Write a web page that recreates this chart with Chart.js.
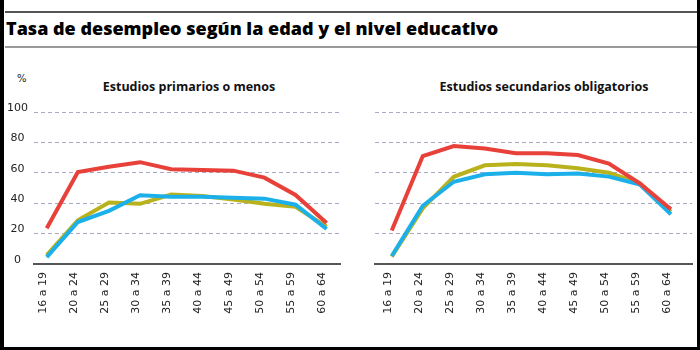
<!DOCTYPE html>
<html>
<head>
<meta charset="utf-8">
<script src="https://cdn.jsdelivr.net/npm/chart.js@4.4.1/dist/chart.umd.min.js"></script>
<style>
  html, body { margin: 0; padding: 0; background: #fff; }
  #page { position: relative; width: 700px; height: 350px; overflow: hidden; background: #fff; }
  .frame { position: absolute; left: 0; top: 0; width: 700px; height: 350px; box-sizing: border-box;
           border-left: 4px solid #000; border-right: 3px solid #000; border-bottom: 3px solid #000; pointer-events: none; z-index: 5; }
  .rule { position: absolute; left: 5px; width: 692px; height: 2px; }
  #title { position: absolute; left: 6px; top: 17px; font-family: "Open Sans", Lato, sans-serif; font-weight: 800;
           font-size: 18px; line-height: 22px; color: #000; white-space: nowrap; letter-spacing: 0px; }
  .sub { position: absolute; top: 78px; font-family: "Open Sans", Lato, sans-serif; font-weight: 700; font-size: 12.5px;
         line-height: 17px; color: #111; white-space: nowrap; transform: translateX(-50%); }
  #pct { position: absolute; left: 17px; top: 73px; font-family: "DejaVu Sans", sans-serif; font-size: 10px; color: #222; }
  canvas { position: absolute; top: 0; }
</style>
</head>
<body>
<div id="page">
  <div class="rule" style="top:11px; background:#555;"></div>
  <div id="title">Tasa de desempleo según la edad y el nivel educativo</div>
  <div class="rule" style="top:46px; background:#9a9a9a;"></div>
  <div id="pct">%</div>
  <div class="sub" id="sub1" style="left:189px;">Estudios primarios o menos</div>
  <div class="sub" id="sub2" style="left:544px;">Estudios secundarios obligatorios</div>
  <div style="position:absolute; left:0; top:0; width:350px; height:350px;"><canvas id="c1" width="350" height="350" style="left:0"></canvas></div>
  <div style="position:absolute; left:350px; top:0; width:350px; height:350px;"><canvas id="c2" width="350" height="350" style="left:0"></canvas></div>
  <div class="frame"></div>
</div>
<script>
// Categories (age groups)
const ageGroups = ['16 a 19', '20 a 24', '25 a 29', '30 a 34', '35 a 39', '40 a 44', '45 a 49', '50 a 54', '55 a 59', '60 a 64'];
// Y-axis tick values (%)
const yTicks = [0, 20, 40, 60, 80, 100];

// Panel 1: Estudios primarios o menos
const primRed    = [23.5, 60.5, 64, 67, 62.3, 61.8, 61.4, 56.8, 45.4, 27];
const primBlue   = [4.5, 27.6, 35, 45.2, 44.3, 44.2, 43.6, 43, 39, 23];
const primYellow = [5.8, 28.7, 40.5, 39.6, 45.7, 44.8, 42.5, 39.6, 37.6, 24.5];

// Panel 2: Estudios secundarios obligatorios
const secRed    = [22, 71, 77.6, 76, 72.8, 72.8, 71.7, 66, 53, 36];
const secBlue   = [5.3, 38.3, 54.1, 59, 60, 59, 59.6, 57.5, 52.2, 32.7];
const secYellow = [4.8, 36.6, 57.4, 64.9, 65.8, 64.9, 63, 60, 53, 34.4];

const RED = '#e8413a', BLUE = '#1cb0ea', YELLOW = '#b9b21d';

function series(values, color) {
  return {
    data: values.map((v, i) => ({ x: i, y: v })),
    borderColor: color, backgroundColor: color, borderWidth: 4,
    pointRadius: 0, pointHoverRadius: 0, tension: 0, fill: false,
    borderCapStyle: 'butt', borderJoinStyle: 'miter'
  };
}

function makeChart(id, red, blue, yellow, cfg) {
  return new Chart(document.getElementById(id), {
    type: 'line',
    data: { datasets: [series(red, RED), series(blue, BLUE), series(yellow, YELLOW)] },
    options: {
      responsive: false, animation: false, events: [],
      layout: { padding: { left: 0, right: cfg.padRight, top: 112, bottom: 0 } },
      plugins: { legend: { display: false }, tooltip: { enabled: false }, title: { display: false } },
      scales: {
        x: {
          type: 'linear', min: cfg.xMin, max: cfg.xMax,
          afterBuildTicks: s => { s.ticks = ageGroups.map((_, i) => ({ value: i })); },
          afterFit: s => { s.height = 86; },
          grid: { display: false, drawTicks: false },
          border: { display: true, color: '#555', width: 2 },
          ticks: {
            autoSkip: false, minRotation: 90, maxRotation: 90, padding: 8, labelOffset: -4,
            color: '#222', font: { family: 'DejaVu Sans', size: 11 },
            callback: v => ageGroups[v]
          }
        },
        y: {
          min: 0, max: 100,
          afterBuildTicks: s => { s.ticks = yTicks.map(v => ({ value: v })); },
          afterFit: s => { s.width = cfg.yWidth; },
          grid: { color: '#a9a9c6', lineWidth: 1, drawTicks: false },
          border: { display: false, dash: [4, 3] },
          ticks: {
            display: cfg.showY, crossAlign: 'center', padding: 6, labelOffset: -4,
            color: '#222', font: { family: 'DejaVu Sans', size: 11 }
          }
        }
      }
    }
  });
}

makeChart('c1', primRed, primBlue, primYellow, { padRight: 10, xMin: -0.41, xMax: 9.43, yWidth: 34, showY: true });
makeChart('c2', secRed, secBlue, secYellow, { padRight: 8, xMin: -0.54, xMax: 9.68, yWidth: 25, showY: false });
</script>
</body>
</html>
